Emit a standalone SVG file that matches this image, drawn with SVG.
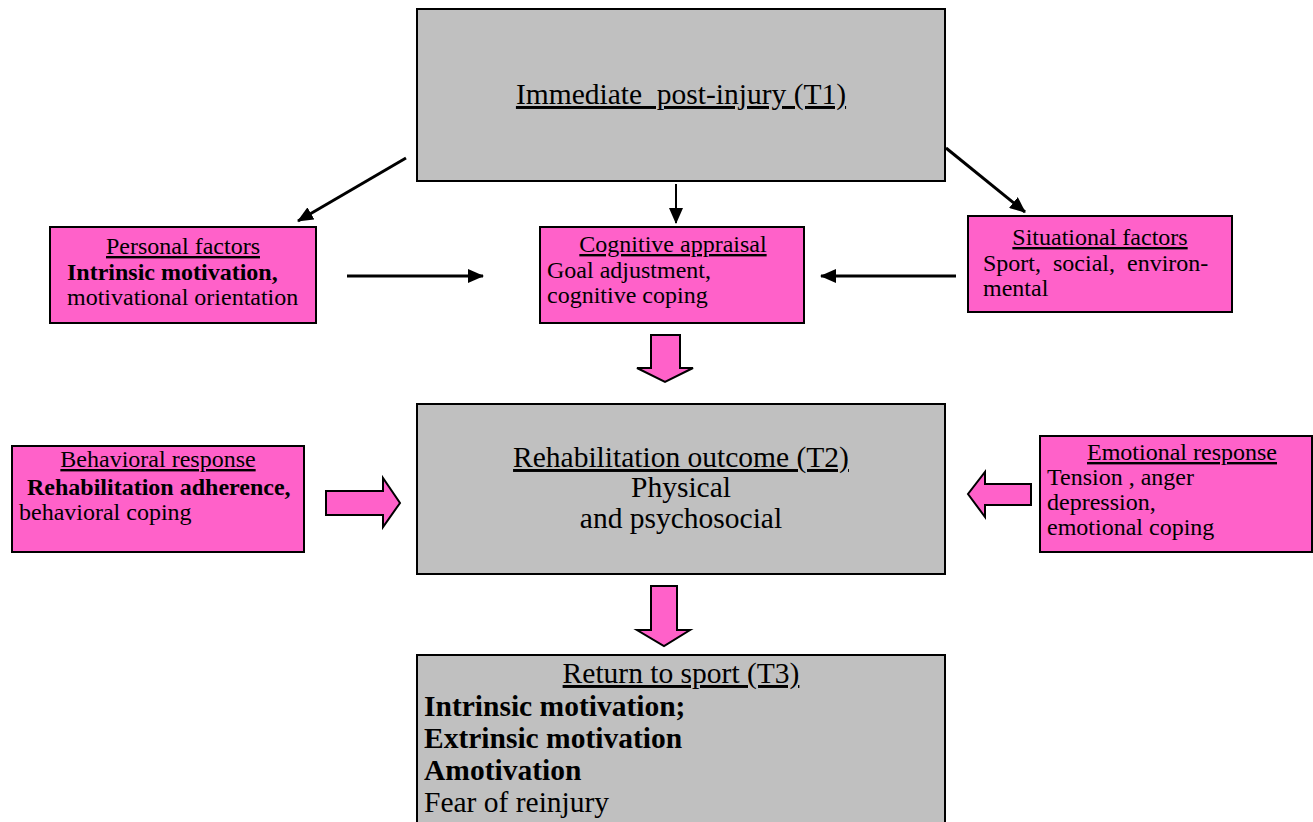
<svg xmlns="http://www.w3.org/2000/svg" width="1313" height="822" viewBox="0 0 1313 822">
<defs>
<style>
.s{font-size:24px}
.b{font-size:29.5px}
.bold{font-weight:bold}
.u{text-decoration:underline}
.mid{text-anchor:middle}
.gray{fill:#c0c0c0;stroke:#000;stroke-width:2}
.pink{fill:#ff61c9;stroke:#000;stroke-width:2}
.thin{stroke:#000;fill:none}
.blk{fill:#ff61c9;stroke:#000;stroke-width:2;stroke-linejoin:miter}
</style>
<marker id="ah" markerUnits="userSpaceOnUse" markerWidth="16" markerHeight="14" refX="15" refY="7" orient="auto">
<path d="M0,0 L16,7 L0,14 Z" fill="#000"/>
</marker>
</defs>
<rect width="1313" height="822" fill="#fff"/>
<g font-family="'Liberation Serif', 'DejaVu Serif', serif" fill="#000">
<g id="t1">
<rect class="gray" x="417" y="9" width="528" height="172"/>
<text class="b u mid" x="681" y="104" xml:space="preserve">Immediate  post-injury (T1)</text>
</g>

<g id="personal">
<rect class="pink" x="50" y="227" width="266" height="96"/>
<text class="s u mid" x="183" y="254">Personal factors</text>
<text class="s bold" x="67" y="280">Intrinsic motivation,</text>
<text class="s" x="67" y="305">motivational orientation</text>
</g>

<g id="cognitive">
<rect class="pink" x="540" y="227" width="264" height="96"/>
<text class="s u mid" x="673" y="252">Cognitive appraisal</text>
<text class="s" x="547" y="278">Goal adjustment,</text>
<text class="s" x="547" y="303">cognitive coping</text>
</g>

<g id="situational">
<rect class="pink" x="968" y="216" width="264" height="96"/>
<text class="s u mid" x="1100" y="245">Situational factors</text>
<text class="s" x="983" y="271" xml:space="preserve">Sport,  social,  environ-</text>
<text class="s" x="983" y="296">mental</text>
</g>

<g id="behavioral">
<rect class="pink" x="12" y="446" width="292" height="106"/>
<text class="s u mid" x="158" y="467">Behavioral response</text>
<text class="s bold" x="27" y="495">Rehabilitation adherence,</text>
<text class="s" x="19" y="520">behavioral coping</text>
</g>

<g id="t2">
<rect class="gray" x="417" y="404" width="528" height="170"/>
<text class="b u mid" x="681" y="467">Rehabilitation outcome (T2)</text>
<text class="b mid" x="681" y="497">Physical</text>
<text class="b mid" x="681" y="528">and psychosocial</text>
</g>

<g id="emotional">
<rect class="pink" x="1040" y="436" width="272" height="116"/>
<text class="s u mid" x="1182" y="460">Emotional response</text>
<text class="s" x="1047" y="485">Tension , anger</text>
<text class="s" x="1047" y="510">depression,</text>
<text class="s" x="1047" y="535">emotional coping</text>
</g>

<g id="t3">
<rect class="gray" x="417" y="655" width="528" height="180"/>
<text class="b u mid" x="681" y="683">Return to sport (T3)</text>
<text class="b bold" x="424" y="716">Intrinsic motivation;</text>
<text class="b bold" x="424" y="748">Extrinsic motivation</text>
<text class="b bold" x="424" y="780">Amotivation</text>
<text class="b" x="424" y="812">Fear of reinjury</text>
</g>
</g>
<g id="connectors">
<line class="thin" stroke-width="3" x1="406" y1="158" x2="298" y2="221" marker-end="url(#ah)"/>
<line class="thin" stroke-width="2" x1="676" y1="184" x2="676" y2="223" marker-end="url(#ah)"/>
<line class="thin" stroke-width="3" x1="946" y1="148" x2="1025" y2="212" marker-end="url(#ah)"/>
<line class="thin" stroke-width="3" x1="347" y1="276" x2="483" y2="276" marker-end="url(#ah)"/>
<line class="thin" stroke-width="3" x1="956" y1="276" x2="821" y2="276" marker-end="url(#ah)"/>
<polygon class="blk" points="651,335 680,335 680,368 693,368 665,382 637,368 651,368"/>
<polygon class="blk" points="651,586 677,586 677,630 690,630 664,646 637,630 651,630"/>
<polygon class="blk" points="326,491 383,491 383,478 400,503 383,527 383,515 326,515"/>
<polygon class="blk" points="1031,484 985,484 985,472 968,494 985,517 985,505 1031,505"/>
</g>
</svg>
